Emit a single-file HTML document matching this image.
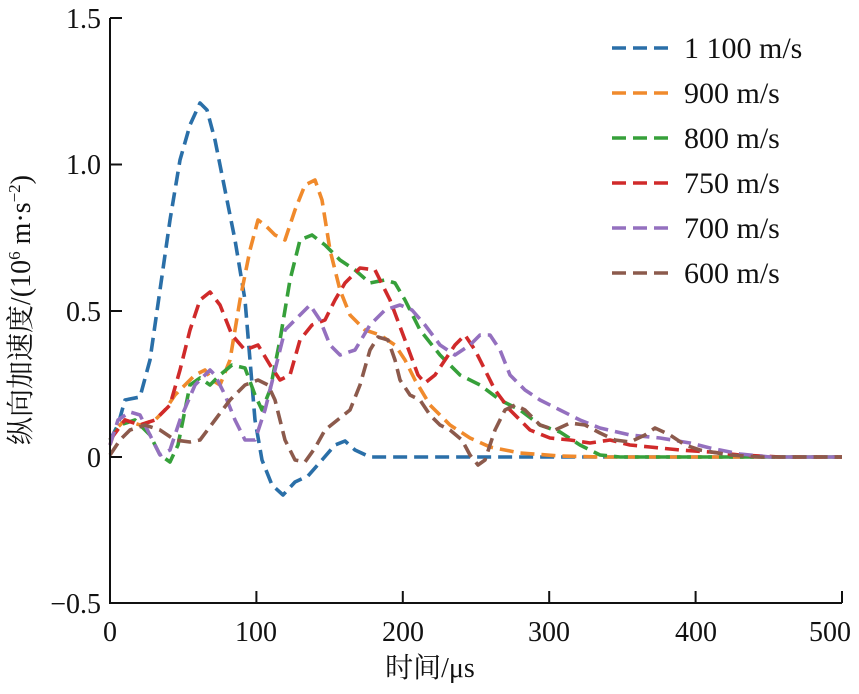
<!DOCTYPE html>
<html><head><meta charset="utf-8"><style>body{margin:0;background:#fff}</style></head><body>
<svg width="859" height="689" xmlns="http://www.w3.org/2000/svg" font-family="Liberation Serif, Noto Serif CJK SC, serif" font-size="28">
<g fill="none" stroke-width="3.6" stroke-dasharray="14 7" stroke-linejoin="round">
<polyline stroke="#2a6fa8" points="110,440 118,425 125,400 140,397 150,360 160,290 170,220 180,160 190,125 200,103 207,110 215,140 225,190 235,240 245,300 250,360 255,420 262,460 272,485 283,495 295,482 308,476 322,460 335,445 345,441 355,450 370,457 842,457"/>
<polyline stroke="#f08a2c" points="110,445 115,430 125,420 140,425 155,420 165,410 175,395 185,385 195,375 205,370 212,380 220,385 230,360 240,300 250,250 258,220 265,225 275,235 285,240 295,210 305,185 315,180 322,200 330,250 340,290 350,315 365,330 380,335 395,345 405,360 415,380 430,405 450,425 470,438 490,447 520,453 560,456 600,457 842,457"/>
<polyline stroke="#36a03a" points="110,440 120,425 135,420 150,435 160,455 170,462 178,445 185,410 190,385 200,378 210,385 220,375 232,365 245,368 255,395 262,410 270,390 280,340 290,280 300,240 312,235 325,245 340,260 355,270 370,283 385,280 395,283 405,300 420,330 440,355 460,375 480,385 500,400 520,410 540,425 560,432 580,445 600,455 620,457 842,457"/>
<polyline stroke="#d02a2a" points="110,440 125,420 140,425 155,420 170,405 180,370 190,330 200,300 210,292 220,305 232,335 245,350 258,345 270,365 280,380 290,375 300,340 312,325 325,320 335,300 345,283 360,268 375,270 390,300 405,340 418,375 425,383 435,375 445,360 455,345 465,335 475,350 485,370 495,390 510,410 530,430 550,438 570,440 590,443 610,440 630,445 650,447 680,450 710,452 740,455 780,457 842,457"/>
<polyline stroke="#9470bf" points="110,445 118,420 130,412 140,415 150,435 160,455 170,450 180,420 195,385 210,370 215,375 225,395 235,420 245,440 255,440 265,410 275,370 285,330 300,315 310,305 320,320 330,345 340,355 355,350 370,325 385,310 400,305 412,310 425,325 440,345 455,355 470,345 480,335 490,335 500,350 510,375 525,390 540,400 560,410 580,420 600,428 630,435 660,438 690,443 710,448 740,454 770,457 842,457"/>
<polyline stroke="#8c5a4c" points="110,455 120,440 130,430 145,425 160,430 175,440 190,442 200,440 215,420 230,400 245,385 258,380 268,385 275,400 285,440 295,460 305,462 315,448 325,430 340,418 350,410 360,385 370,350 378,337 388,340 395,360 400,380 410,395 420,400 430,415 440,425 450,430 462,440 470,455 478,465 485,460 495,430 505,410 515,405 525,410 540,425 555,430 570,423 585,425 600,433 615,440 630,442 645,435 655,428 670,435 685,445 700,450 730,455 760,457 842,457"/>
</g>
<g stroke="#111" stroke-width="2" fill="none">
<polyline points="110,18 110,603 842,603"/>
<path d="M110,18h12M110,164.5h12M110,311h12M110,457h12M110,603h12M256.4,603v-12M402.8,603v-12M549.2,603v-12M695.6,603v-12M842,603v-12"/>
</g>
<g text-anchor="end" fill="#111">
<text x="101" y="28">1.5</text><text x="101" y="174">1.0</text><text x="101" y="321">0.5</text><text x="101" y="467">0</text><text x="101" y="613">−0.5</text>
</g>
<g text-anchor="middle" fill="#111">
<text x="110" y="641">0</text><text x="256" y="641">100</text><text x="403" y="641">200</text><text x="549" y="641">300</text><text x="696" y="641">400</text><text x="830" y="641">500</text>
<text x="430" y="677">时间/μs</text>
<text transform="translate(30,310) rotate(-90)">纵向加速度/(10<tspan font-size="17" dy="-10">6</tspan><tspan dy="10"> m·s</tspan><tspan font-size="17" dy="-10">−2</tspan><tspan dy="10">)</tspan></text>
</g>
<g stroke-width="3.6" stroke-dasharray="14 7">
<line x1="612" y1="48" x2="672" y2="48" stroke="#2a6fa8"/>
<line x1="612" y1="93" x2="672" y2="93" stroke="#f08a2c"/>
<line x1="612" y1="138" x2="672" y2="138" stroke="#36a03a"/>
<line x1="612" y1="183" x2="672" y2="183" stroke="#d02a2a"/>
<line x1="612" y1="228" x2="672" y2="228" stroke="#9470bf"/>
<line x1="612" y1="273" x2="672" y2="273" stroke="#8c5a4c"/>
</g>
<g fill="#111" font-size="30">
<text x="684" y="58">1 100 m/s</text><text x="684" y="103">900 m/s</text><text x="684" y="148">800 m/s</text><text x="684" y="193">750 m/s</text><text x="684" y="238">700 m/s</text><text x="684" y="283">600 m/s</text>
</g>
</svg>
</body></html>
